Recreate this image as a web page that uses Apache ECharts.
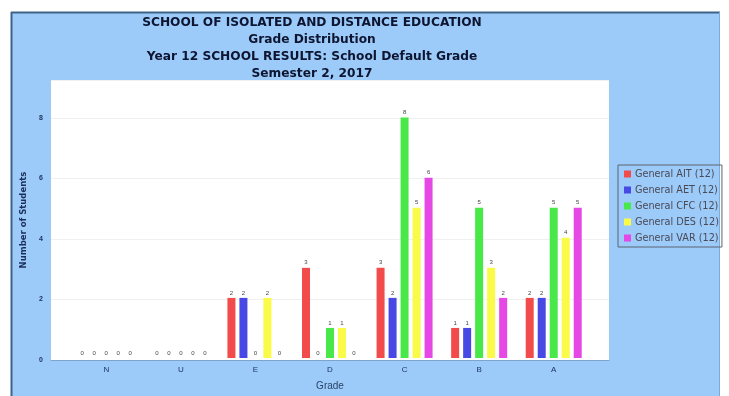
<!DOCTYPE html>
<html><head><meta charset="utf-8">
<script src="https://cdn.jsdelivr.net/npm/echarts@6/dist/echarts.min.js"></script>
<style>html,body{margin:0;padding:0;background:#fff}#c{width:729px;height:396px}</style>
</head><body><div id="c"></div>
<script>
const titleLines = ['SCHOOL OF ISOLATED AND DISTANCE EDUCATION','Grade Distribution','Year 12 SCHOOL RESULTS: School Default Grade','Semester 2, 2017'];
const categories = ['N','U','E','D','C','B','A'];
const seriesNames = ['General AIT (12)','General AET (12)','General CFC (12)','General DES (12)','General VAR (12)'];
const aitValues = [0,0,2,3,3,1,2];
const aetValues = [0,0,2,0,2,1,2];
const cfcValues = [0,0,0,1,8,5,5];
const desValues = [0,0,2,1,5,3,4];
const varValues = [0,0,0,0,6,2,5];
const colors = ['#f24b4b','#4848e4','#48e848','#fafa48','#e648e6'];
const yTicks = [0,2,4,6,8];

const allValues = [aitValues,aetValues,cfcValues,desValues,varValues];
const chart = echarts.init(document.getElementById('c'));
const navy = '#1c2f5a';
chart.setOption({
  animation:false,
  backgroundColor:'#ffffff',
  graphic:[
    {type:'rect',z:-10,shape:{x:11,y:12,width:709,height:384},style:{fill:'#9ccaf9'}},
    {type:'line',z:-9,shape:{x1:11,y1:12.5,x2:720,y2:12.5},style:{stroke:'#3d6488',lineWidth:2}},
    {type:'line',z:-9,shape:{x1:11.5,y1:12,x2:11.5,y2:396},style:{stroke:'#3d6488',lineWidth:2}},
    {type:'line',z:-9,shape:{x1:719.5,y1:12,x2:719.5,y2:396},style:{stroke:'#7fa9d6',lineWidth:1}}
  ],
  title:{text:titleLines.join('\n'),left:307,top:9,textAlign:'center',
    textStyle:{fontFamily:'DejaVu Sans',fontSize:12.2,fontWeight:'bold',lineHeight:17,color:'#0d1530'}},
  legend:{data:seriesNames,orient:'vertical',left:618,top:165,itemWidth:7,itemHeight:7,itemGap:6,
    padding:[4,3,4,6],borderColor:'#5a6570',borderWidth:1,icon:'rect',itemStyle:{borderWidth:0},
    textStyle:{fontFamily:'DejaVu Sans',fontSize:9.7,color:'#4a4a55',padding:[0,0,0,-1]}},
  grid:[
    {left:69,right:138,top:80,bottom:36},
    {left:51,right:120,top:80,bottom:36,show:true,backgroundColor:'#ffffff',borderWidth:0,z:-1}
  ],
  xAxis:[
    {type:'category',gridIndex:0,data:categories,axisLine:{show:false},axisTick:{show:false},
      axisLabel:{margin:8,fontSize:8,color:navy,fontFamily:'Liberation Sans'},
      name:'Grade',nameLocation:'middle',nameGap:23,
      nameTextStyle:{fontSize:10,color:'#2b4468',fontFamily:'Liberation Sans'}},
    {type:'value',gridIndex:1,min:0,max:1,axisLabel:{show:false},splitLine:{show:false},axisTick:{show:false},
      axisLine:{show:true,lineStyle:{color:'#7fa3cc',width:1}}}
  ],
  yAxis:[
    {type:'value',gridIndex:0,min:0,max:9.25,interval:2,show:false},
    {type:'value',gridIndex:1,min:0,max:9.25,interval:2,
      axisLine:{show:false},axisTick:{show:false},
      axisLabel:{margin:8,fontSize:7,fontWeight:'bold',color:navy,fontFamily:'Liberation Sans',
        formatter:v=>yTicks.indexOf(v)>=0?String(v):''},
      splitLine:{show:true,lineStyle:{color:'#f0f0f0',width:1}},
      name:'Number of Students',nameLocation:'middle',nameGap:21,nameRotate:90,
      nameTextStyle:{fontSize:8.5,fontWeight:'bold',color:navy,fontFamily:'DejaVu Sans'}}
  ],
  series: seriesNames.map((n,i)=>({
    name:n,type:'bar',xAxisIndex:0,yAxisIndex:0,data:allValues[i],
    barWidth:8,barGap:'50%',
    itemStyle:{color:colors[i]},
    label:{show:true,position:'top',distance:2,fontSize:6,color:'#444',fontFamily:'Liberation Sans'}
  }))
});
</script></body></html>
